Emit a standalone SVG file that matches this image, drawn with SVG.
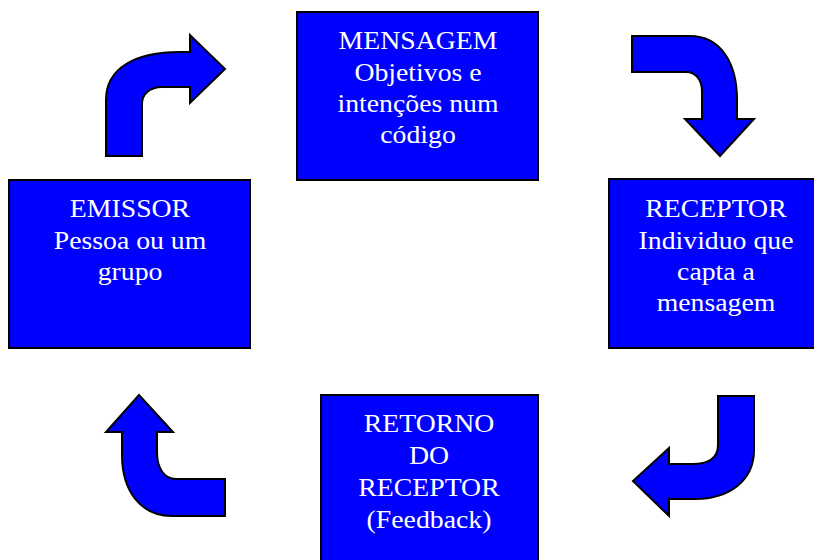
<svg xmlns="http://www.w3.org/2000/svg" width="814" height="560" viewBox="0 0 814 560">
<style>
.box{fill:#0000ff;stroke:#000;stroke-width:2}
.arrow{fill:#0000ff;stroke:#000;stroke-width:2;stroke-linejoin:miter}
.t{font-family:"Liberation Serif","Times New Roman",serif;font-size:25px;fill:#fff;text-anchor:middle}
</style>
<rect width="814" height="560" fill="#fff"/>
<g id="connectors">
<path class="arrow" d="M106,156 L106,100 C106,68 135,52 180,52 L190,52 L190,35 L225,69 L190,103 L190,87 L162,87 C150,87 142,94 142,104 L142,156 Z"/>
<path class="arrow" d="M632,36 L690,36 C720,36 737,62 737,100 L737,119 L754,119 L720,156 L685,119 L702,119 L702,92 C702,80 696,72 686,72 L632,72 Z"/>
<path class="arrow" d="M718,396 L754,396 L754,450 C754,480 730,499 695,499 L669,499 L669,516 L633,481 L669,448 L669,464 L692,464 C708,464 718,458 718,445 Z"/>
<path class="arrow" d="M225,479 L225,516 L172,516 C140,516 122,490 122,455 L122,432 L106,432 L139,395 L173,432 L157,432 L157,452 C157,468 164,479 176,479 Z"/>
</g>
<g id="mensagem">
<rect class="box" x="297" y="12" width="241" height="168"/>
<g transform="translate(418,0) scale(1.11,1)">
<text class="t" x="0" y="49">MENSAGEM</text>
<text class="t" x="0" y="81">Objetivos e</text>
<text class="t" x="0" y="112">intenções num</text>
<text class="t" x="0" y="143">código</text>
</g>
</g>
<g id="receptor">
<rect class="box" x="609" y="179" width="215" height="169"/>
<g transform="translate(716,0) scale(1.11,1)">
<text class="t" x="0" y="217">RECEPTOR</text>
<text class="t" x="0" y="249">Individuo que</text>
<text class="t" x="0" y="280">capta a</text>
<text class="t" x="0" y="311">mensagem</text>
</g>
</g>
<g id="emissor">
<rect class="box" x="9" y="180" width="241" height="168"/>
<g transform="translate(130,0) scale(1.11,1)">
<text class="t" x="0" y="217">EMISSOR</text>
<text class="t" x="0" y="249">Pessoa ou um</text>
<text class="t" x="0" y="280">grupo</text>
</g>
</g>
<g id="retorno">
<rect class="box" x="321" y="395" width="217" height="175"/>
<g transform="translate(429,0) scale(1.11,1)">
<text class="t" x="0" y="432">RETORNO</text>
<text class="t" x="0" y="464">DO</text>
<text class="t" x="0" y="496">RECEPTOR</text>
<text class="t" x="0" y="528">(Feedback)</text>
</g>
</g>
</svg>
